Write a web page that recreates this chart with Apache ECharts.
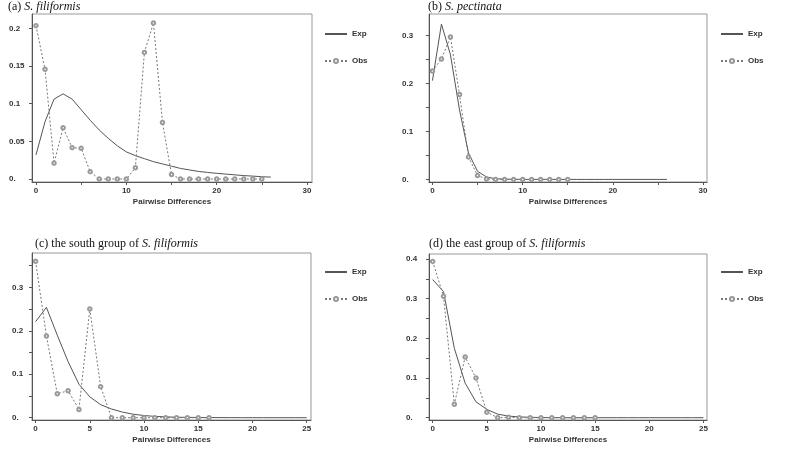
<!DOCTYPE html>
<html>
<head>
<meta charset="utf-8">
<script src="https://cdn.jsdelivr.net/npm/echarts@6/dist/echarts.min.js"></script>
<style>
  html, body { margin: 0; padding: 0; background: #fff; }
  #chart { width: 787px; height: 451px; }
</style>
</head>
<body>
<div id="chart"></div>
<script>
// x = pairwise differences (index of each value)
const expA = [0.032, 0.076, 0.106, 0.113, 0.106, 0.092, 0.078, 0.065, 0.054, 0.044, 0.036, 0.031, 0.027, 0.023, 0.02, 0.017, 0.014, 0.012, 0.01, 0.0087, 0.0075, 0.0065, 0.0055, 0.0045, 0.0038, 0.003, 0.0025];
const obsA = [0.2035, 0.1456, 0.021, 0.068, 0.0416, 0.0407, 0.0097, 0, 0, 0, 0, 0.015, 0.168, 0.207, 0.075, 0.006, 0, 0, 0, 0, 0, 0, 0, 0, 0, 0];

const expB = [0.206, 0.324, 0.26, 0.145, 0.055, 0.017, 0.005, 0.0015, 0.0005, 0.0002, 0, 0, 0, 0, 0, 0, 0, 0, 0, 0, 0, 0, 0, 0, 0, 0, 0];
const obsB = [0.226, 0.251, 0.297, 0.177, 0.0465, 0.008, 0.001, 0, 0, 0, 0, 0, 0, 0, 0, 0];

const expC = [0.221, 0.254, 0.19, 0.129, 0.077, 0.048, 0.03, 0.02, 0.013, 0.008, 0.005, 0.003, 0.002, 0.001, 0.0008, 0.0005, 0.0003, 0.0002, 0.0001, 0, 0, 0, 0, 0, 0, 0];
const obsC = [0.36, 0.188, 0.055, 0.062, 0.019, 0.25, 0.0715, 0, 0, 0, 0, 0, 0, 0, 0, 0, 0];

const expD = [0.348, 0.318, 0.175, 0.087, 0.04, 0.021, 0.009, 0.004, 0.002, 0.001, 0.0005, 0.0002, 0.0001, 0, 0, 0, 0, 0, 0, 0, 0, 0, 0, 0, 0, 0];
const obsD = [0.394, 0.306, 0.034, 0.153, 0.1, 0.014, 0, 0.001, 0, 0, 0, 0, 0, 0, 0, 0];

// ticks / labels
const xTicks30 = [0, 5, 10, 15, 20, 25, 30];
const xLabels30 = [0, 10, 20, 30];
const xTicks25 = [0, 5, 10, 15, 20, 25];
const yTicksA = [0, 0.05, 0.1, 0.15, 0.2];
const yTicksB = [0, 0.05, 0.1, 0.15, 0.2, 0.25, 0.3];
const yLabelsB = [0, 0.1, 0.2, 0.3];
const yTicksC = [0, 0.05, 0.1, 0.15, 0.2, 0.25, 0.3, 0.35];
const yLabelsC = [0, 0.1, 0.2, 0.3];
const yTicksD = [0, 0.05, 0.1, 0.15, 0.2, 0.25, 0.3, 0.35, 0.4];
const yLabelsD = [0, 0.1, 0.2, 0.3, 0.4];

const titles = [
  ['(a) ', 'S. filiformis'],
  ['(b) ', 'S. pectinata'],
  ['(c) the south group of ', 'S. filiformis'],
  ['(d) the east group of ', 'S. filiformis'],
];

const toPts = arr => arr.map((v, i) => [i, v]);

const chart = echarts.init(document.getElementById('chart'));

// panel boxes [left, top, right, bottom]
const boxes = [
  [32, 14, 312, 182],
  [429, 14, 707, 182],
  [32, 253, 311, 420],
  [429, 254, 707, 420],
];
const xRange = [[-0.44, 30.55], [-0.38, 30.44], [-0.33, 25.4], [-0.34, 25.33]];
const yRange = [[-0.004, 0.219], [-0.0054, 0.345], [-0.0053, 0.379], [-0.0058, 0.4126]];
const xTickSets = [[xTicks30, xLabels30], [xTicks30, xLabels30], [xTicks25, xTicks25], [xTicks25, xTicks25]];
const yTickSets = [[yTicksA, yTicksA], [yTicksB, yLabelsB], [yTicksC, yLabelsC], [yTicksD, yLabelsD]];
const yMargins = [23, 27, 20, 23];
const titlePos = [[8, 1], [428, 1], [35, 238], [429, 238]];
const legendPos = [[324, 30], [720, 30], [324, 268], [720, 268]];
const expSets = [expA, expB, expC, expD];
const obsSets = [obsA, obsB, obsC, obsD];

const labelFont = {
  fontFamily: 'Liberation Sans, Arial, sans-serif',
  fontSize: 8,
  fontWeight: 'bold',
  color: '#333',
};

const option = {
  animation: false,
  backgroundColor: '#fff',
  title: titles.map((t, i) => ({
    text: t[0] + '{i|' + t[1] + '}',
    left: titlePos[i][0],
    top: titlePos[i][1],
    padding: 0,
    textStyle: {
      fontFamily: 'Liberation Serif, Times New Roman, serif',
      fontSize: 12,
      fontWeight: 'normal',
      color: '#111',
      rich: {
        i: {
          fontFamily: 'Liberation Serif, Times New Roman, serif',
          fontSize: 12,
          fontStyle: 'italic',
          color: '#111',
        },
      },
    },
  })),
  legend: legendPos.map(p => ({
    left: p[0],
    top: p[1],
    orient: 'vertical',
    itemWidth: 22,
    itemHeight: 5,
    itemGap: 19,
    padding: 0,
    data: [
      { name: 'Exp', itemStyle: { opacity: 0 } },
      { name: 'Obs' },
    ],
    textStyle: labelFont,
  })),
  grid: boxes.map(b => ({
    left: b[0],
    top: b[1],
    width: b[2] - b[0],
    height: b[3] - b[1],
    show: true,
    borderColor: '#999',
    borderWidth: 1,
    containLabel: false,
  })),
  xAxis: boxes.map((b, i) => ({
    type: 'value',
    gridIndex: i,
    min: xRange[i][0],
    max: xRange[i][1],
    name: 'Pairwise Differences',
    nameLocation: 'middle',
    nameGap: 16,
    nameTextStyle: labelFont,
    axisLine: { onZero: false, lineStyle: { color: '#555', width: 1 } },
    axisTick: { show: true, length: 3, customValues: xTickSets[i][0], lineStyle: { color: '#555' } },
    axisLabel: { customValues: xTickSets[i][1], margin: 5, ...labelFont },
    splitLine: { show: false },
  })),
  yAxis: boxes.map((b, i) => ({
    type: 'value',
    gridIndex: i,
    min: yRange[i][0],
    max: yRange[i][1],
    axisLine: { show: true, onZero: false, lineStyle: { color: '#555', width: 1 } },
    axisTick: { show: true, length: 3, customValues: yTickSets[i][0], lineStyle: { color: '#555' } },
    axisLabel: {
      customValues: yTickSets[i][1],
      align: 'left',
      margin: yMargins[i],
      formatter: v => (v === 0 ? '0.' : String(v)),
      ...labelFont,
    },
    splitLine: { show: false },
  })),
  series: [],
};

for (let i = 0; i < 4; i++) {
  option.series.push({
    name: 'Exp',
    type: 'line',
    xAxisIndex: i,
    yAxisIndex: i,
    data: toPts(expSets[i]),
    showSymbol: false,
    symbol: 'none',
    lineStyle: { color: '#555', width: 1 },
    itemStyle: { color: '#555' },
  });
  option.series.push({
    name: 'Obs',
    type: 'line',
    xAxisIndex: i,
    yAxisIndex: i,
    data: toPts(obsSets[i]),
    symbol: 'emptyCircle',
    symbolSize: 3.5,
    lineStyle: { color: '#777', width: 1, type: [2, 2] },
    itemStyle: { color: '#999', borderWidth: 0.8 },
  });
}

chart.setOption(option);
</script>
</body>
</html>
